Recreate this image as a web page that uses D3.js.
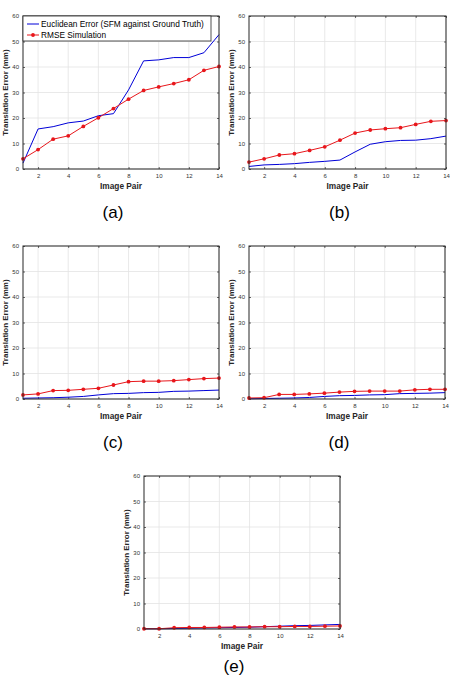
<!DOCTYPE html>
<html>
<head>
<meta charset="utf-8">
<script src="https://cdn.jsdelivr.net/npm/d3@7"></script>
<style>
  body { margin: 0; background: #fff; }
  svg { display: block; font-family: "Liberation Sans", Arial, sans-serif; }
</style>
</head>
<body>
<svg id="chart" width="450" height="676"></svg>
<script>
// image pair index
const pairs = [1, 2, 3, 4, 5, 6, 7, 8, 9, 10, 11, 12, 13, 14];
const xTicks = [2, 4, 6, 8, 10, 12, 14];
const yTicks = [0, 10, 20, 30, 40, 50, 60];

// Euclidean error (SFM against ground truth), one array per panel
const euclidA = [2.3, 15.7, 16.6, 18.1, 18.8, 20.9, 21.7, 31.0, 42.4, 42.8, 43.7, 43.7, 45.6, 52.7];
const euclidB = [1.0, 1.6, 1.8, 2.1, 2.6, 3.0, 3.5, 6.7, 9.7, 10.7, 11.2, 11.3, 11.9, 12.9];
const euclidC = [0.3, 0.4, 0.5, 0.7, 1.0, 1.6, 2.1, 2.2, 2.5, 2.6, 3.0, 3.1, 3.3, 3.5];
const euclidD = [0.1, 0.2, 0.3, 0.4, 0.6, 1.0, 1.3, 1.4, 1.6, 1.7, 2.1, 2.2, 2.3, 2.5];
const euclidE = [0.1, 0.1, 0.2, 0.3, 0.4, 0.5, 0.6, 0.7, 0.9, 1.1, 1.3, 1.4, 1.6, 1.8];

// RMSE simulation
const rmseA = [4.0, 7.6, 11.7, 13.0, 16.7, 20.1, 23.7, 27.4, 30.8, 32.2, 33.5, 35.0, 38.7, 40.2];
const rmseB = [2.7, 4.0, 5.5, 6.0, 7.3, 8.7, 11.3, 14.1, 15.3, 15.8, 16.2, 17.5, 18.7, 19.0];
const rmseC = [1.6, 2.0, 3.3, 3.4, 3.8, 4.2, 5.5, 6.8, 7.0, 7.0, 7.2, 7.6, 8.0, 8.2];
const rmseD = [0.4, 0.5, 1.8, 1.8, 2.0, 2.3, 2.7, 3.0, 3.1, 3.1, 3.1, 3.6, 3.8, 3.8];
const rmseE = [0.1, 0.1, 0.5, 0.6, 0.6, 0.7, 0.8, 0.8, 0.9, 0.9, 1.0, 1.0, 1.1, 1.2];

const seriesNames = ["Euclidean Error (SFM against Ground Truth)", "RMSE Simulation"];

const panels = [
  { tag: "(a)", euclid: euclidA, rmse: rmseA, left: 23, top: 16, w: 196, legend: true },
  { tag: "(b)", euclid: euclidB, rmse: rmseB, left: 249, top: 16, w: 197 },
  { tag: "(c)", euclid: euclidC, rmse: rmseC, left: 23, top: 246, w: 196 },
  { tag: "(d)", euclid: euclidD, rmse: rmseD, left: 249, top: 246, w: 196 },
  { tag: "(e)", euclid: euclidE, rmse: rmseE, left: 144, top: 476, w: 196, capY: 196 }
];

const blue = "#0000d8";
const red = "#e8161b";
const plotH = 153;

const svg = d3.select("#chart");

panels.forEach(p => {
  const g = svg.append("g").attr("transform", `translate(${p.left},${p.top})`);
  const x = d3.scaleLinear().domain([1, 14]).range([0, p.w]);
  const y = d3.scaleLinear().domain([0, 60]).range([plotH, 0]);

  // grid
  g.append("g").selectAll("line").data(xTicks).join("line")
    .attr("x1", d => x(d)).attr("x2", d => x(d))
    .attr("y1", 0).attr("y2", plotH)
    .attr("stroke", "#e3e3e3").attr("stroke-width", 0.8);
  g.append("g").selectAll("line").data(yTicks).join("line")
    .attr("x1", 0).attr("x2", p.w)
    .attr("y1", d => y(d)).attr("y2", d => y(d))
    .attr("stroke", "#e3e3e3").attr("stroke-width", 0.8);

  // axes with inward ticks (box style)
  const tickStyle = sel => {
    sel.select(".domain").remove();
    sel.selectAll(".tick line").attr("stroke", "#262626").attr("stroke-width", 0.7);
    sel.selectAll(".tick text").attr("fill", "#333").attr("font-size", 6);
  };
  g.append("g").attr("transform", `translate(0,${plotH})`)
    .call(d3.axisBottom(x).tickValues(xTicks).tickSizeInner(-2).tickSizeOuter(0).tickPadding(5))
    .call(tickStyle);
  g.append("g")
    .call(d3.axisLeft(y).tickValues(yTicks).tickSizeInner(-2).tickSizeOuter(0).tickPadding(4))
    .call(tickStyle);
  g.append("g")
    .call(d3.axisTop(x).tickValues(xTicks).tickSizeInner(-2).tickSizeOuter(0).tickFormat(""))
    .call(tickStyle);
  g.append("g").attr("transform", `translate(${p.w},0)`)
    .call(d3.axisRight(y).tickValues(yTicks).tickSizeInner(-2).tickSizeOuter(0).tickFormat(""))
    .call(tickStyle);

  // lines
  const line = d3.line().x((d, i) => x(pairs[i])).y(d => y(d));
  g.append("path").datum(p.euclid).attr("d", line)
    .attr("fill", "none").attr("stroke", blue).attr("stroke-width", 1);
  g.append("path").datum(p.rmse).attr("d", line)
    .attr("fill", "none").attr("stroke", red).attr("stroke-width", 1);
  g.append("g").selectAll("circle").data(p.rmse).join("circle")
    .attr("cx", (d, i) => x(pairs[i])).attr("cy", d => y(d))
    .attr("r", 1.9).attr("fill", red);

  // frame
  g.append("rect").attr("width", p.w).attr("height", plotH)
    .attr("fill", "none").attr("stroke", "#262626").attr("stroke-width", 1);

  // axis labels
  g.append("text").attr("x", p.w / 2).attr("y", plotH + 20)
    .attr("text-anchor", "middle").attr("font-size", 8.3).attr("font-weight", "bold")
    .attr("fill", "#262626").text("Image Pair");
  g.append("text")
    .attr("transform", `translate(-15,${plotH / 2}) rotate(-90)`)
    .attr("text-anchor", "middle").attr("font-size", 8).attr("font-weight", "bold")
    .attr("fill", "#262626").text("Translation Error (mm)");

  // caption
  g.append("text").attr("x", p.w / 2 - 8).attr("y", p.capY || plotH + 49)
    .attr("text-anchor", "middle").attr("font-size", 17)
    .attr("fill", "#000").text(p.tag);

  if (p.legend) {
    const lg = g.append("g");
    lg.append("rect").attr("x", 0).attr("y", 0).attr("width", 188).attr("height", 25)
      .attr("fill", "#fff").attr("stroke", "#262626").attr("stroke-width", 0.8);
    seriesNames.forEach((name, i) => {
      const yy = 8 + i * 11;
      const col = i === 0 ? blue : red;
      lg.append("line").attr("x1", 4).attr("x2", 16).attr("y1", yy).attr("y2", yy)
        .attr("stroke", col).attr("stroke-width", 1);
      if (i === 1) lg.append("circle").attr("cx", 10).attr("cy", yy).attr("r", 1.9).attr("fill", red);
      lg.append("text").attr("x", 18).attr("y", yy + 3).attr("font-size", 8.3)
        .attr("fill", "#000").text(name);
    });
  }
});
</script>
</body>
</html>
